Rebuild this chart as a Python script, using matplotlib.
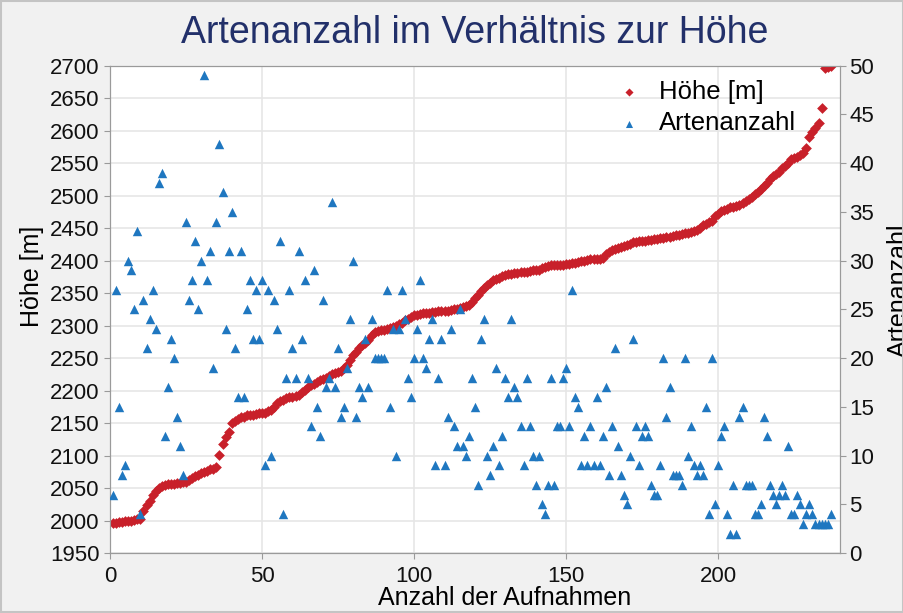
import matplotlib
matplotlib.use("Agg")
import matplotlib.pyplot as plt
from matplotlib.patches import Rectangle

plt.rcParams["font.family"] = ["Liberation Sans", "DejaVu Sans"]

# Höhe [m], sortiert nach Aufnahme (Index 1..237)
hoehe = [
    1997, 1997, 1998, 1998, 1999, 2000, 2000, 2001, 2002, 2003,
    2015, 2024, 2030, 2040, 2045, 2050, 2053, 2055, 2056, 2057,
    2057, 2058, 2058, 2059, 2060, 2062, 2065, 2068, 2070, 2073,
    2075, 2077, 2079, 2080, 2082, 2101, 2118, 2128, 2137, 2150,
    2153, 2157, 2159, 2160, 2162, 2163, 2163, 2164, 2165, 2165,
    2166, 2168, 2170, 2175, 2181, 2184, 2186, 2188, 2190, 2191,
    2192, 2194, 2198, 2201, 2205, 2209, 2211, 2213, 2216, 2218,
    2220, 2222, 2225, 2227, 2229, 2231, 2235, 2240, 2247, 2255,
    2260, 2265, 2270, 2274, 2278, 2285, 2291, 2292, 2293, 2294,
    2295, 2297, 2298, 2300, 2302, 2304, 2308, 2311, 2314, 2316,
    2317, 2318, 2319, 2320, 2320, 2321, 2321, 2322, 2322, 2323,
    2323, 2324, 2325, 2326, 2327, 2328, 2330, 2332, 2336, 2342,
    2347, 2354, 2358, 2362, 2366, 2370, 2372, 2374, 2376, 2378,
    2379, 2380, 2381, 2381, 2382, 2382, 2383, 2384, 2385, 2386,
    2386, 2388, 2390, 2392, 2393, 2393, 2394, 2394, 2394, 2395,
    2395, 2396, 2397, 2398, 2399, 2400, 2401, 2402, 2403, 2403,
    2403, 2404, 2410, 2414, 2416, 2418, 2420, 2421, 2422, 2424,
    2426, 2428, 2429, 2430, 2430, 2431, 2432, 2432, 2433, 2434,
    2435, 2435, 2436, 2437, 2438, 2439, 2440, 2441, 2442, 2443,
    2444, 2445, 2447, 2450, 2455, 2457, 2459, 2461, 2468, 2472,
    2476, 2478, 2480, 2482, 2483, 2484, 2486, 2488, 2492, 2495,
    2498, 2502, 2506, 2510, 2515, 2520, 2526, 2530, 2533, 2537,
    2542, 2546, 2550, 2556, 2558, 2560, 2563, 2566, 2573, 2590,
    2598, 2604, 2612, 2635, 2697, 2698, 2699,
]

# Artenanzahl je Aufnahme (Index 1..237)
arten = [
    6, 27, 15, 8, 9, 30, 29, 25, 33, 4,
    26, 21, 24, 27, 23, 38, 39, 12, 17, 22,
    20, 14, 11, 8, 34, 26, 28, 32, 25, 30,
    49, 28, 31, 19, 34, 42, 37, 23, 31, 35,
    21, 16, 31, 16, 25, 28, 22, 27, 22, 28,
    9, 27, 10, 26, 23, 32, 4, 18, 27, 21,
    18, 31, 22, 28, 18, 13, 29, 15, 12, 26,
    17, 18, 36, 17, 21, 14, 15, 19, 24, 30,
    14, 17, 16, 22, 17, 24, 20, 20, 20, 20,
    27, 15, 23, 10, 23, 27, 24, 18, 16, 20,
    23, 28, 20, 19, 22, 24, 9, 18, 22, 9,
    14, 23, 13, 11, 25, 11, 10, 12, 18, 15,
    7, 22, 24, 10, 8, 11, 19, 9, 12, 18,
    16, 24, 17, 16, 13, 9, 18, 13, 10, 7,
    10, 5, 4, 7, 18, 7, 13, 13, 18, 19,
    13, 27, 16, 15, 9, 12, 9, 13, 9, 16,
    9, 12, 17, 8, 13, 21, 11, 8, 6, 5,
    10, 22, 13, 9, 12, 13, 12, 7, 6, 6,
    9, 20, 14, 17, 8, 8, 8, 7, 20, 10,
    13, 9, 8, 9, 8, 15, 4, 20, 5, 9,
    12, 13, 4, 2, 7, 2, 14, 15, 7, 7,
    7, 4, 4, 5, 14, 12, 7, 6, 5, 6,
    7, 6, 11, 4, 4, 6, 5, 3, 4, 5,
    4, 3, 3, 3, 3, 3, 4,
]

aufnahme = list(range(1, len(hoehe) + 1))

red = "#c8202a"
blue = "#1f77c0"

fig = plt.figure(figsize=(9.04, 6.13), dpi=100, facecolor="#f1f1f1")
fig.patches.append(Rectangle((0.001, 0.001), 0.998, 0.998, transform=fig.transFigure,
                             fill=False, edgecolor="#c4c4c4", linewidth=1.5))
ax = fig.add_axes([0.1217, 0.0976, 0.8073, 0.7953])
ax2 = ax.twinx()

ax.scatter(aufnahme, hoehe, marker="D", s=30, color=red, linewidths=0,
           label="Höhe [m]", zorder=3)
ax2.scatter(aufnahme, arten, marker="^", s=46, color=blue, linewidths=0,
            label="Artenanzahl", zorder=3)

ax.set_xlim(0, 240)
ax.set_ylim(1950, 2700)
ax2.set_ylim(0, 50)
ax.set_xticks(range(0, 201, 50))
ax.set_yticks(range(1950, 2701, 50))
ax2.set_yticks(range(0, 51, 5))

ax.grid(True, color="#e6e6e6", linewidth=1.2)
ax.set_axisbelow(True)

for a in (ax, ax2):
    for sp in a.spines.values():
        sp.set_color("#9a9a9a")
    a.tick_params(labelsize=16, colors="#111111", length=4)
ax.tick_params(axis="both", color="#9a9a9a")
ax.tick_params(axis="x", pad=5)
ax2.tick_params(axis="y", color="#9a9a9a", pad=3)

ax.set_xlabel("Anzahl der Aufnahmen", fontsize=18)
ax.xaxis.set_label_coords(0.541, -0.068)
ax.set_ylabel("Höhe [m]", fontsize=18)
ax.yaxis.set_label_coords(-0.090, 0.567)
ax2.set_ylabel("Artenanzahl", fontsize=18)
ax2.yaxis.set_label_coords(1.064, 0.54)

fig.suptitle("Artenanzahl im Verhältnis zur Höhe", fontsize=27,
             color="#22306a", x=0.525, y=0.975)

h1, l1 = ax.get_legend_handles_labels()
h2, l2 = ax2.get_legend_handles_labels()
ax2.legend(h1 + h2, l1 + l2, loc="upper right", bbox_to_anchor=(0.96, 1.0),
           frameon=False, fontsize=18.5, handletextpad=0.2, markerscale=0.75,
           borderaxespad=0.15, labelspacing=0.3)

fig.savefig("out.png", dpi=100, facecolor=fig.get_facecolor())
